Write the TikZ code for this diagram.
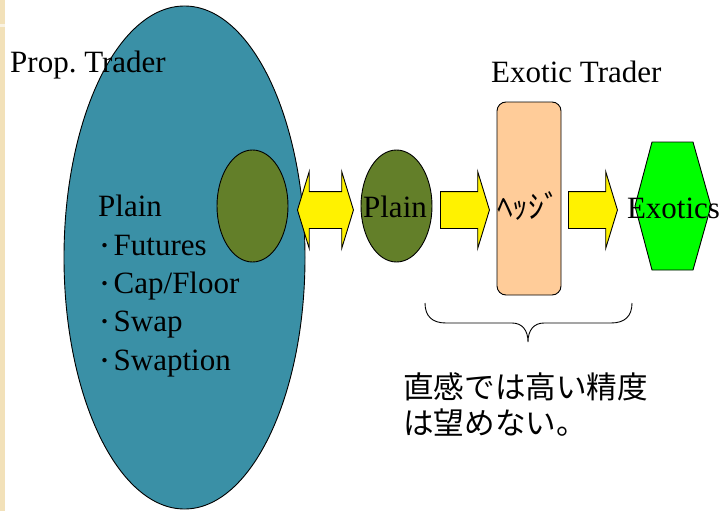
\documentclass[tikz,border=0pt]{standalone}
\usepackage{fontspec}
\setmainfont{Liberation Serif}
\newfontfamily\jpfont{Noto Sans CJK JP}
\usetikzlibrary{shapes.geometric,shapes.arrows}
\definecolor{propteal}{HTML}{3A90A6}
\definecolor{plainolive}{HTML}{637F29}
\definecolor{hedgepeach}{HTML}{FFCC99}
\definecolor{exoticgreen}{HTML}{00FF00}
\definecolor{stripbeige}{HTML}{F2E1B9}
\newcommand{\listdot}{{\jpfont\fontsize{26}{26}\selectfont ･}\kern2.5pt}
\frenchspacing

\begin{document}
\begin{tikzpicture}[x=1pt,y=-1pt,
  outline/.style={draw=black,line width=0.9pt},
  bigtext/.style={font=\fontsize{31}{38.3}\selectfont,inner sep=0pt},
  jptext/.style={font=\jpfont\fontsize{30.6}{36}\selectfont,inner sep=0pt},
  olivebubble/.style={outline,ellipse,fill=plainolive,minimum width=71pt,minimum height=112pt,inner sep=0pt},
  blockarrow/.style={outline,single arrow,fill=yellow,inner xsep=0pt,inner ysep=18pt,
    single arrow head extend=20pt,single arrow tip angle=146,minimum height=49pt},
  twowayarrow/.style={outline,double arrow,fill=yellow,inner xsep=0pt,inner ysep=18pt,
    double arrow head extend=20pt,double arrow tip angle=146,minimum height=56pt}]
\useasboundingbox (0,0) rectangle (723,511);
\fill[white] (0,0) rectangle (723,511);
\fill[stripbeige] (0,0) rectangle (5,511);
\fill[stripbeige!40!white] (0,24) rectangle (5,27);

% Prop. Trader side
\node[outline,ellipse,fill=propteal,minimum width=241pt,minimum height=503pt,inner sep=0pt] (prop) at (184.5,257.5) {};
\node[bigtext,anchor=base west] (proplabel) at (10,73) {Prop. Trader};
% multi-line: base is the last line
\node[bigtext,anchor=base west,align=left] (plainlist) at (98,370)
  {Plain\\\listdot Futures\\\listdot Cap/Floor\\\listdot Swap\\\listdot Swaption};
\node[olivebubble] (plainL) at (252.5,206) {};

% Exotic Trader side
\node[olivebubble] (plainR) at (396.5,206) {};
\node[bigtext,anchor=base] (plainRtext) at (395,217) {Plain};
\node[outline,rectangle,rounded corners=9pt,fill=hedgepeach,minimum width=64pt,minimum height=193pt,inner sep=0pt] (hedgebox) at (529,198.5) {};
\node[jptext,font=\jpfont\fontsize{31.5}{36}\selectfont,anchor=base] (hedge) at (528.5,218) {ﾍｯｼﾞ};
\node[bigtext,anchor=base west] (exoticlabel) at (491,82) {Exotic Trader};

% Exotics hexagon
\draw[outline,fill=exoticgreen] (652,142) -- (693,142) -- (711,206) -- (693,270) -- (652,270) -- (635,206) -- cycle;
\node[bigtext,anchor=base] (exotics) at (673.5,218) {Exotics};

% flows
\node[twowayarrow,anchor=west] (swapflow) at (297,210) {};
\node[blockarrow,anchor=west] (toHedge) at (440,210) {};
\node[blockarrow,anchor=west] (toExotics) at (568,210) {};

% brace and comment
\draw[line width=0.9pt] (425,303) .. controls (425,316) and (432,323) .. (446,323) -- (512,323)
  .. controls (522,323) and (528,330) .. (528,342)
  .. controls (528,330) and (534,323) .. (544,323) -- (611,323)
  .. controls (625,323) and (632,316) .. (632,303);
\node[jptext,anchor=base west,align=left] (intuition) at (403,434) {直感では高い精度\\は望めない。};

\end{tikzpicture}
\end{document}
